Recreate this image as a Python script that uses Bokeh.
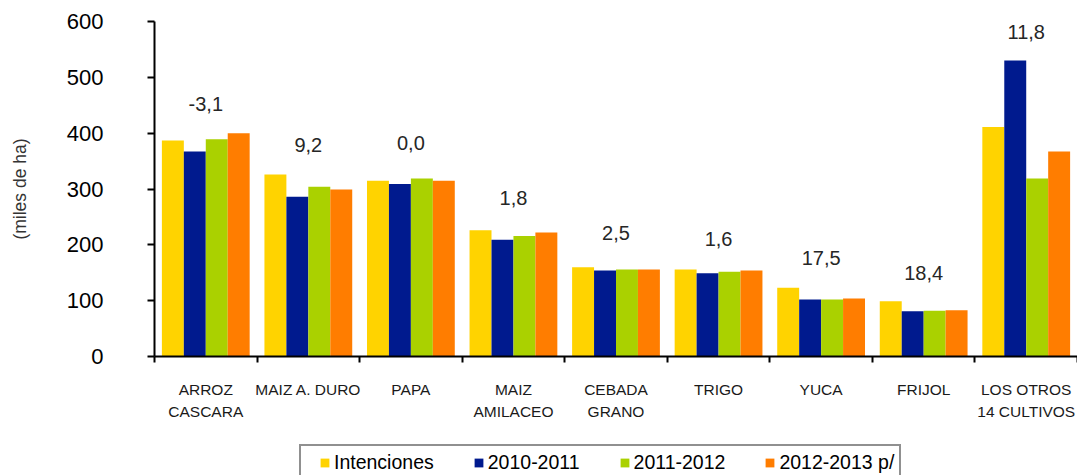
from bokeh.plotting import figure
from bokeh.layouts import column
from bokeh.models import (Range1d, LinearAxis, FixedTicker, Legend, LegendItem,
                          ColumnDataSource)
from bokeh.transform import dodge
from bokeh.core.properties import value
from bokeh.embed import file_html
from bokeh.resources import INLINE

categories = ["ARROZ\nCASCARA", "MAIZ A. DURO", "PAPA", "MAIZ\nAMILACEO",
              "CEBADA\nGRANO", "TRIGO", "YUCA", "FRIJOL", "LOS OTROS\n14 CULTIVOS"]
intenciones = [387, 326, 315, 226, 160, 156, 123, 99, 411]
s2010_2011 = [367, 286, 309, 209, 154, 149, 102, 81, 530]
s2011_2012 = [389, 304, 319, 216, 156, 152, 102, 82, 319]
s2012_2013 = [400, 299, 315, 222, 156, 154, 104, 83, 367]
var_labels = ["-3,1", "9,2", "0,0", "1,8", "2,5", "1,6", "17,5", "18,4", "11,8"]
var_label_y = [453, 378, 382, 283, 222, 211, 176, 149, 582]
series_names = ["Intenciones", "2010-2011", "2011-2012", "2012-2013 p/"]
y_ticks = [0, 100, 200, 300, 400, 500, 600]

colors = ["#FFD300", "#001A8E", "#AAD100", "#FF7D00"]
FONT = "Liberation Sans"

n = len(categories)
centers = [i + 0.5 for i in range(n)]
src = ColumnDataSource(dict(x=centers, s0=intenciones, s1=s2010_2011,
                            s2=s2011_2012, s3=s2012_2013,
                            lab=var_labels, ly=var_label_y))
cols = ["s0", "s1", "s2", "s3"]

p = figure(width=1077, height=443,
           x_range=Range1d(0, n), y_range=Range1d(0, 600),
           output_backend="svg", toolbar_location=None,
           x_axis_location=None,
           min_border_left=154, min_border_right=0,
           min_border_top=21, min_border_bottom=87)
p.outline_line_color = None
p.grid.visible = False

tick_axis = LinearAxis(ticker=FixedTicker(ticks=list(range(n + 1))),
                       major_tick_out=6, major_tick_in=0,
                       minor_tick_line_color=None,
                       axis_line_width=2, axis_line_color="black",
                       major_tick_line_width=2, major_tick_line_color="black",
                       major_label_overrides={i: "" for i in range(n + 1)},
                       major_label_text_font_size="1px", major_label_standoff=0)
p.add_layout(tick_axis, "below")
cat_axis = LinearAxis(ticker=FixedTicker(ticks=centers),
                      major_label_overrides={c: name for c, name in zip(centers, categories)},
                      axis_line_color=None, major_tick_line_color=None,
                      minor_tick_line_color=None,
                      major_label_standoff=12,
                      major_label_text_font=FONT,
                      major_label_text_font_size="15.5px",
                      major_label_text_line_height=1.3,
                      major_label_text_color="#1a1a1a")
p.add_layout(cat_axis, "below")

ya = p.yaxis[0]
ya.ticker = FixedTicker(ticks=y_ticks)
ya.major_tick_out = 7
ya.major_tick_in = 0
ya.minor_tick_line_color = None
ya.axis_line_width = 2
ya.axis_line_color = "black"
ya.major_tick_line_width = 2
ya.major_tick_line_color = "black"
ya.major_label_standoff = 44
ya.major_label_text_font = FONT
ya.major_label_text_font_size = "22px"
ya.major_label_text_color = "black"
ya.axis_label = "(miles de ha)"
ya.axis_label_text_font = FONT
ya.axis_label_text_font_size = "17.5px"
ya.axis_label_text_font_style = "normal"
ya.axis_label_text_color = "#333333"
ya.axis_label_standoff = 34

bw = 0.214
offsets = [-1.5 * bw, -0.5 * bw, 0.5 * bw, 1.5 * bw]
for i, col in enumerate(cols):
    p.vbar(x=dodge("x", offsets[i]), top=col, width=bw,
           source=src, fill_color=colors[i], line_color=None)

p.text(x="x", y="ly", text="lab", source=src, text_align="center",
       text_baseline="middle", text_font=value(FONT), text_font_size="20px",
       text_color="#262626")

# legend strip below the chart (same series, drawn out of view; legend only)
p2 = figure(width=1077, height=32, x_range=Range1d(0, n), y_range=Range1d(1000, 1001),
            output_backend="svg", toolbar_location=None,
            x_axis_location=None, y_axis_location=None,
            min_border_left=0, min_border_right=0, min_border_top=0, min_border_bottom=0)
p2.outline_line_color = None
p2.grid.visible = False
leg_renderers = []
for i, col in enumerate(cols):
    r = p2.vbar(x=dodge("x", offsets[i]), top=col, width=bw,
                source=src, fill_color=colors[i], line_color=None)
    leg_renderers.append(r)

legend = Legend(items=[LegendItem(label=nm, renderers=[r]) for nm, r in zip(series_names, leg_renderers)],
                orientation="horizontal", location=(145, -6),
                title=" ", title_location="left", title_standoff=2,
                title_text_font_size="10px",
                padding=5, spacing=39, glyph_width=11, glyph_height=11,
                label_standoff=4, margin=0,
                border_line_color="#222222", border_line_width=2,
                label_text_font=FONT, label_text_font_size="19.5px",
                label_text_color="black")
p2.add_layout(legend)

layout = column(p, p2, spacing=0)
open("out.html", "w").write(file_html(layout, INLINE))
